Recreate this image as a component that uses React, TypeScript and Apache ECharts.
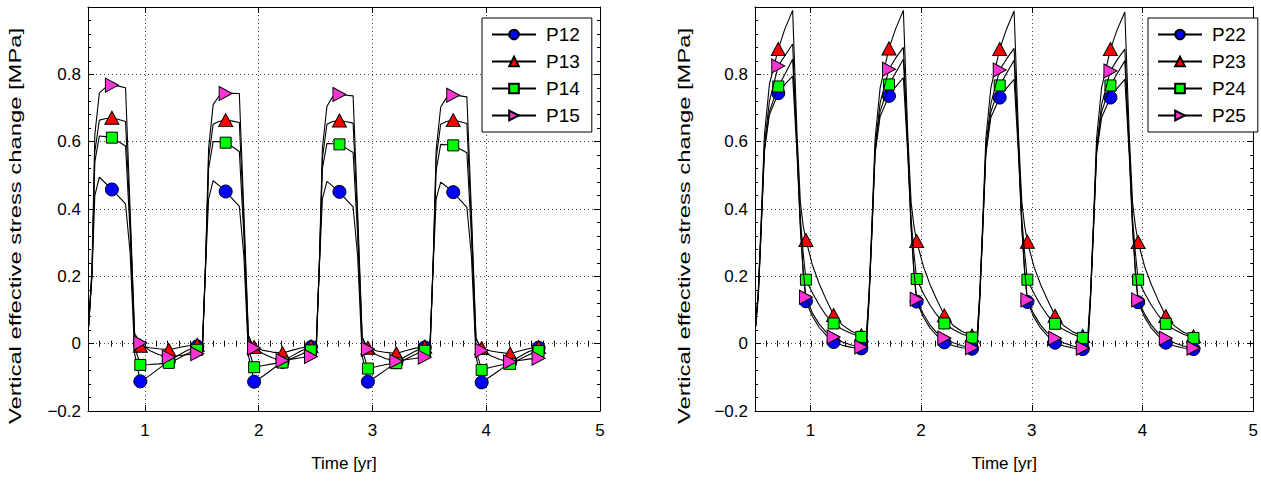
import React, { useEffect, useRef } from "react";
import * as echarts from "echarts";

// Each loading cycle starts at cycleStart + offset (years)
const cycleStarts = [0, 1, 2, 3];

// Sample times inside one cycle and the samples that carry a marker
const leftOffsets = [0.505, 0.535, 0.56, 0.6, 0.65, 0.71, 0.77, 0.83, 0.87, 0.91, 0.96, 1.04, 1.12, 1.21, 1.29, 1.37, 1.46];
const leftMarkerIdx = [5, 10, 13, 16];
const rightOffsets = [0.505, 0.53, 0.555, 0.585, 0.63, 0.71, 0.77, 0.84, 0.88, 0.91, 0.935, 0.96, 1.02, 1.08, 1.14, 1.21, 1.29, 1.37, 1.46];
const rightMarkerIdx = [5, 11, 15, 18];

// Vertical effective stress change [MPa], one row per cycle
const p12 = [
  [0.05, 0.2, 0.44, 0.495, 0.478, 0.458, 0.437, 0.415, 0.27, -0.03, -0.112, -0.095, -0.075, -0.052, -0.035, -0.02, -0.008],
  [-0.012, 0.24, 0.43, 0.484, 0.47, 0.452, 0.43, 0.408, 0.26, -0.035, -0.113, -0.096, -0.076, -0.054, -0.037, -0.022, -0.01],
  [-0.013, 0.24, 0.43, 0.482, 0.468, 0.451, 0.428, 0.406, 0.26, -0.036, -0.113, -0.096, -0.077, -0.055, -0.038, -0.023, -0.011],
  [-0.014, 0.24, 0.43, 0.48, 0.467, 0.45, 0.427, 0.405, 0.26, -0.037, -0.115, -0.097, -0.078, -0.056, -0.039, -0.024, -0.012],
];
const p13 = [
  [0.05, 0.21, 0.57, 0.664, 0.668, 0.671, 0.666, 0.66, 0.37, 0.02, -0.006, -0.012, -0.015, -0.018, -0.012, -0.007, -0.003],
  [-0.01, 0.25, 0.55, 0.652, 0.66, 0.664, 0.661, 0.657, 0.36, 0.015, -0.01, -0.02, -0.025, -0.028, -0.02, -0.013, -0.008],
  [-0.011, 0.25, 0.55, 0.652, 0.66, 0.663, 0.659, 0.655, 0.36, 0.014, -0.012, -0.022, -0.026, -0.029, -0.021, -0.014, -0.009],
  [-0.012, 0.25, 0.55, 0.652, 0.66, 0.664, 0.659, 0.654, 0.36, 0.012, -0.013, -0.022, -0.026, -0.03, -0.022, -0.015, -0.01],
];
const p14 = [
  [0.05, 0.21, 0.54, 0.617, 0.615, 0.612, 0.6, 0.587, 0.33, -0.01, -0.063, -0.062, -0.06, -0.057, -0.045, -0.03, -0.018],
  [-0.018, 0.25, 0.52, 0.6, 0.6, 0.597, 0.585, 0.571, 0.32, -0.015, -0.07, -0.065, -0.06, -0.056, -0.044, -0.032, -0.02],
  [-0.02, 0.25, 0.52, 0.595, 0.594, 0.592, 0.58, 0.568, 0.32, -0.018, -0.074, -0.068, -0.062, -0.058, -0.046, -0.033, -0.021],
  [-0.021, 0.25, 0.515, 0.592, 0.591, 0.589, 0.578, 0.567, 0.32, -0.02, -0.078, -0.07, -0.064, -0.06, -0.047, -0.034, -0.022],
];
const p15 = [
  [0.05, 0.22, 0.62, 0.745, 0.76, 0.768, 0.765, 0.76, 0.4, 0.03, 0.002, -0.02, -0.032, -0.04, -0.036, -0.033, -0.03],
  [-0.03, 0.26, 0.58, 0.71, 0.735, 0.743, 0.744, 0.743, 0.39, 0.025, -0.013, -0.03, -0.042, -0.05, -0.046, -0.042, -0.038],
  [-0.038, 0.26, 0.58, 0.705, 0.733, 0.74, 0.738, 0.736, 0.39, 0.02, -0.016, -0.034, -0.045, -0.052, -0.048, -0.044, -0.04],
  [-0.04, 0.26, 0.575, 0.703, 0.73, 0.738, 0.736, 0.733, 0.39, 0.018, -0.02, -0.036, -0.047, -0.054, -0.05, -0.046, -0.043],
];

const p22 = [
  [0.05, 0.14, 0.33, 0.57, 0.68, 0.744, 0.77, 0.795, 0.56, 0.34, 0.21, 0.126, 0.08, 0.048, 0.026, 0.005, -0.005, -0.011, -0.014],
  [-0.012, 0.13, 0.32, 0.565, 0.675, 0.736, 0.763, 0.79, 0.56, 0.34, 0.21, 0.125, 0.079, 0.047, 0.025, 0.004, -0.006, -0.012, -0.015],
  [-0.013, 0.13, 0.32, 0.563, 0.672, 0.731, 0.758, 0.785, 0.56, 0.34, 0.21, 0.124, 0.078, 0.046, 0.024, 0.003, -0.007, -0.013, -0.016],
  [-0.014, 0.13, 0.32, 0.563, 0.672, 0.731, 0.758, 0.785, 0.56, 0.34, 0.21, 0.123, 0.078, 0.046, 0.024, 0.003, -0.007, -0.013, -0.016],
];
const p23 = [
  [0.05, 0.16, 0.36, 0.62, 0.77, 0.875, 0.935, 0.99, 0.62, 0.42, 0.35, 0.308, 0.232, 0.178, 0.133, 0.085, 0.055, 0.037, 0.025],
  [0.02, 0.15, 0.35, 0.61, 0.76, 0.877, 0.935, 0.99, 0.62, 0.42, 0.35, 0.305, 0.23, 0.176, 0.132, 0.084, 0.054, 0.036, 0.024],
  [0.019, 0.15, 0.35, 0.61, 0.76, 0.875, 0.933, 0.988, 0.62, 0.42, 0.35, 0.303, 0.228, 0.175, 0.131, 0.083, 0.053, 0.035, 0.023],
  [0.018, 0.15, 0.35, 0.61, 0.76, 0.875, 0.932, 0.985, 0.62, 0.42, 0.35, 0.302, 0.228, 0.175, 0.13, 0.082, 0.052, 0.034, 0.022],
];
const p24 = [
  [0.05, 0.15, 0.34, 0.58, 0.69, 0.764, 0.8, 0.845, 0.58, 0.37, 0.27, 0.19, 0.15, 0.115, 0.085, 0.06, 0.042, 0.03, 0.02],
  [0.015, 0.14, 0.33, 0.575, 0.69, 0.77, 0.805, 0.845, 0.58, 0.37, 0.27, 0.192, 0.15, 0.115, 0.086, 0.06, 0.042, 0.029, 0.018],
  [0.014, 0.14, 0.33, 0.573, 0.688, 0.767, 0.802, 0.842, 0.58, 0.37, 0.27, 0.19, 0.149, 0.114, 0.085, 0.059, 0.041, 0.028, 0.017],
  [0.013, 0.14, 0.33, 0.573, 0.688, 0.767, 0.802, 0.84, 0.58, 0.37, 0.27, 0.19, 0.149, 0.114, 0.085, 0.059, 0.041, 0.028, 0.017],
];
const p25 = [
  [0.05, 0.15, 0.34, 0.59, 0.72, 0.825, 0.855, 0.89, 0.58, 0.35, 0.22, 0.138, 0.09, 0.058, 0.035, 0.02, 0.005, -0.004, -0.01],
  [-0.01, 0.14, 0.33, 0.585, 0.715, 0.815, 0.848, 0.88, 0.58, 0.35, 0.22, 0.132, 0.088, 0.056, 0.033, 0.017, 0.003, -0.006, -0.012],
  [-0.012, 0.14, 0.33, 0.583, 0.712, 0.813, 0.845, 0.877, 0.58, 0.35, 0.22, 0.13, 0.087, 0.055, 0.032, 0.016, 0.002, -0.007, -0.013],
  [-0.013, 0.14, 0.33, 0.583, 0.71, 0.81, 0.843, 0.875, 0.58, 0.35, 0.22, 0.13, 0.087, 0.055, 0.032, 0.016, 0.002, -0.007, -0.013],
];

const xTickValues = [1, 2, 3, 4, 5];
const leftNames = ["P12", "P13", "P14", "P15"];
const rightNames = ["P22", "P23", "P24", "P25"];
const yTitle = "Vertical effective stress change [MPa]";
const xTitle = "Time [yr]";

const FONT = '"Liberation Sans", Arial, Helvetica, sans-serif';
const BLUE = "#0000ff";
const RED = "#ff0000";
const GREEN = "#00ff00";
const MAGENTA = "#ff33d6";
const TRI_RIGHT = "path://M0,0L10,5L0,10Z";

const markerStyles = [
  { color: BLUE, symbol: "circle", size: 13 },
  { color: RED, symbol: "triangle", size: [14, 13] },
  { color: GREEN, symbol: "rect", size: 11 },
  { color: MAGENTA, symbol: TRI_RIGHT, size: [13, 14] },
];

// plot rectangles: [left, top, width, height]
const panels = [
  [88, 7, 512, 404],
  [755, 7, 511, 404],
];

function buildData(offsets: number[], markerIdx: number[], cycles: number[][]) {
  const out: any[] = [];
  cycles.forEach((vals, c) => {
    vals.forEach((v, i) => {
      const t = Math.round((cycleStarts[c] + offsets[i]) * 1000) / 1000;
      if (markerIdx.includes(i)) out.push({ value: [t, v] });
      else out.push({ value: [t, v], symbol: "none" });
    });
  });
  return out;
}

function yLabel(v: number) {
  const r = Math.round(v * 10) / 10;
  if (r > 0.95) return "";
  if (r === 0) return "0";
  if (r < 0) return "\u2212" + Math.abs(r).toFixed(1);
  return r.toFixed(1);
}

const black = { color: "#000", width: 1 };
const dotted = { color: "#444", width: 1, type: [1, 3] as any };

// main grid axes: major ticks, labels, dotted grid
function mainXAxes(grid: number) {
  const base = { type: "value", gridIndex: grid, min: 0.5, max: 5 };
  return [
    {
      ...base,
      position: "bottom",
      axisLine: { show: true, onZero: false, lineStyle: black },
      axisTick: { show: true, inside: true, length: 6, customValues: xTickValues, lineStyle: black },
      axisLabel: {
        show: true,
        customValues: xTickValues,
        margin: 11,
        color: "#000",
        fontSize: 17,
        fontFamily: FONT,
        formatter: (v: number) => (Number.isInteger(v) ? String(v) : ""),
      },
      splitLine: { show: true, lineStyle: dotted },
      name: xTitle,
      nameLocation: "middle",
      nameGap: 44,
      nameTextStyle: { color: "#000", fontSize: 17, fontFamily: FONT },
    },
    {
      ...base,
      position: "top",
      axisLine: { show: true, onZero: false, lineStyle: black },
      axisTick: { show: true, inside: true, length: 6, customValues: xTickValues, lineStyle: black },
      axisLabel: { show: false },
      splitLine: { show: false },
    },
  ];
}

// overlay grid axes: 0.1 yr minor ticks on bottom and top
function minorXAxes(grid: number) {
  const base = {
    type: "value",
    gridIndex: grid,
    min: 0.5,
    max: 5,
    interval: 0.1,
    axisLine: { show: false },
    axisTick: { show: true, inside: true, length: 3, lineStyle: black },
    axisLabel: { show: false },
    splitLine: { show: false },
  };
  return [
    { ...base, position: "bottom" },
    { ...base, position: "top" },
  ];
}

function mainYAxes(grid: number) {
  const base = {
    type: "value",
    gridIndex: grid,
    min: -0.2,
    max: 1,
    interval: 0.2,
    axisLine: { show: true, onZero: false, lineStyle: black },
    axisTick: { show: true, inside: true, length: 6, lineStyle: black },
    minorTick: { show: true, splitNumber: 5, length: 3, lineStyle: black },
  };
  return [
    {
      ...base,
      position: "left",
      axisLabel: { show: true, margin: 7, color: "#000", fontSize: 17, fontFamily: FONT, formatter: yLabel },
      splitLine: { show: true, lineStyle: dotted },
    },
    {
      ...base,
      position: "right",
      axisLabel: { show: false },
      splitLine: { show: false },
    },
  ];
}

function hiddenYAxes(grid: number) {
  const base = { type: "value", gridIndex: grid, min: -0.2, max: 1, show: false };
  return [
    { ...base, position: "left" },
    { ...base, position: "right" },
  ];
}

function makeSeries(names: string[], cycles: number[][][], offsets: number[], markerIdx: number[], xIdx: number, yIdx: number) {
  return names.map((name, k) => ({
    type: "line",
    name,
    xAxisIndex: xIdx,
    yAxisIndex: yIdx,
    data: buildData(offsets, markerIdx, cycles[k]),
    symbol: markerStyles[k].symbol,
    symbolSize: markerStyles[k].size,
    showSymbol: true,
    showAllSymbol: true,
    lineStyle: { color: "#000", width: 1.1 },
    itemStyle: { color: markerStyles[k].color, borderColor: "#000", borderWidth: 1 },
    emphasis: { disabled: true },
    silent: true,
    z: 2 + k,
  }));
}

function legendAt(left: number, names: string[]) {
  return {
    data: names,
    orient: "vertical",
    left,
    top: 18,
    itemWidth: 44,
    itemHeight: 12,
    itemGap: 8,
    padding: [7, 12, 7, 9],
    borderColor: "#000",
    borderWidth: 1,
    backgroundColor: "#fff",
    selectedMode: false,
    textStyle: { color: "#000", fontSize: 19, fontFamily: FONT, padding: [0, 0, 0, 5] },
  };
}

function yTitleText(cx: number, cy: number) {
  return {
    type: "text",
    x: cx,
    y: cy,
    rotation: Math.PI / 2,
    scaleX: 1.4,
    scaleY: 1,
    silent: true,
    style: {
      text: yTitle,
      fontSize: 17,
      fontFamily: FONT,
      fill: "#000",
      align: "center",
      verticalAlign: "middle",
      textAlign: "center",
      textVerticalAlign: "middle",
    },
  };
}

export default function App() {
  const ref = useRef<HTMLDivElement>(null);

  useEffect(() => {
    if (!ref.current) return;
    const chart = echarts.init(ref.current, null, { renderer: "svg" });
    const grids = [panels[0], panels[0], panels[1], panels[1]].map(([left, top, width, height]) => ({
      left,
      top,
      width,
      height,
      containLabel: false,
    }));
    chart.setOption({
      animation: false,
      backgroundColor: "#fff",
      textStyle: { fontFamily: FONT },
      grid: grids,
      xAxis: [...mainXAxes(0), ...minorXAxes(1), ...mainXAxes(2), ...minorXAxes(3)],
      yAxis: [...mainYAxes(0), ...hiddenYAxes(1), ...mainYAxes(2), ...hiddenYAxes(3)],
      legend: [legendAt(482, leftNames), legendAt(1148, rightNames)],
      graphic: [yTitleText(15, 226), yTitleText(684, 226)],
      series: [
        ...makeSeries(leftNames, [p12, p13, p14, p15], leftOffsets, leftMarkerIdx, 0, 0),
        ...makeSeries(rightNames, [p22, p23, p24, p25], rightOffsets, rightMarkerIdx, 4, 4),
      ],
    });
    return () => chart.dispose();
  }, []);

  return (
    <div
      ref={ref}
      style={{ position: "absolute", left: 0, top: 0, width: 1261, height: 481, background: "#fff" }}
    />
  );
}
